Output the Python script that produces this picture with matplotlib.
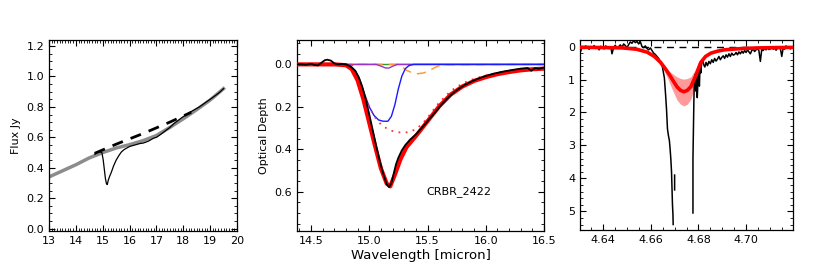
"""Three-panel spectrum figure: continuum fit, 15 micron optical depth, 4.67 micron CO band."""

import matplotlib

matplotlib.use("Agg")
import matplotlib.pyplot as plt
import numpy as np
from matplotlib.ticker import FormatStrFormatter, MultipleLocator

plt.rcParams["font.family"] = ["DejaVu Sans"]
plt.rcParams["font.size"] = 8

# ---- panel 1: flux spectrum with continuum ----
flux_wl = [14.70, 14.80, 14.90, 14.97, 15.02, 15.06, 15.10, 15.14, 15.17, 15.21,
           15.26, 15.32, 15.40, 15.50, 15.60, 15.70, 15.80, 15.90, 16.00, 16.10,
           16.20, 16.30, 16.40, 16.50, 16.60, 16.70, 16.80, 16.90, 17.00, 17.10,
           17.20, 17.35, 17.50, 17.65, 17.80, 17.95, 18.10, 18.25, 18.40, 18.60,
           18.80, 19.00, 19.20, 19.35, 19.50]
flux_jy = [0.490, 0.500, 0.505, 0.500, 0.450, 0.390, 0.330, 0.295, 0.290, 0.320,
           0.345, 0.370, 0.410, 0.450, 0.480, 0.505, 0.520, 0.530, 0.540, 0.545,
           0.550, 0.555, 0.560, 0.562, 0.568, 0.575, 0.585, 0.595, 0.600, 0.612,
           0.625, 0.645, 0.665, 0.690, 0.710, 0.730, 0.748, 0.765, 0.780, 0.800,
           0.825, 0.850, 0.875, 0.895, 0.920]

cont_wl = [13.0, 13.5, 14.0, 14.5, 15.0, 15.5, 16.0, 16.5, 17.0, 17.5, 18.0, 18.5, 19.0, 19.5]
cont_jy = [0.340, 0.380, 0.420, 0.465, 0.500, 0.530, 0.552, 0.578, 0.612, 0.665,
           0.722, 0.782, 0.845, 0.920]

guide_wl = [14.70, 15.50, 16.50, 17.50, 18.30]
guide_jy = [0.495, 0.555, 0.625, 0.700, 0.765]

# ---- panel 2: 15 micron optical depth and fit components ----
tau_wl = [14.38, 14.42, 14.46, 14.50, 14.53, 14.56, 14.59, 14.62, 14.64, 14.67,
          14.70, 14.73, 14.76, 14.80, 14.84, 14.88, 14.91, 14.94, 14.97, 15.00,
          15.03, 15.06, 15.09, 15.12, 15.15, 15.17, 15.19, 15.21, 15.23, 15.25,
          15.28, 15.31, 15.35, 15.40, 15.45, 15.50, 15.56, 15.62, 15.68, 15.75,
          15.82, 15.90, 15.98, 16.06, 16.14, 16.22, 16.30, 16.36, 16.39, 16.42,
          16.46, 16.50]
tau_obs = [0.000, 0.000, 0.002, -0.003, 0.003, 0.005, -0.008, -0.020, -0.022, -0.018,
           -0.005, 0.000, -0.002, 0.000, 0.010, 0.030, 0.060, 0.105, 0.165, 0.235,
           0.310, 0.385, 0.455, 0.515, 0.565, 0.578, 0.560, 0.515, 0.470, 0.440,
           0.405, 0.380, 0.355, 0.330, 0.300, 0.268, 0.230, 0.190, 0.155, 0.122,
           0.097, 0.075, 0.058, 0.045, 0.035, 0.027, 0.020, 0.017, 0.030, 0.018,
           0.020, 0.015]

fit_wl = [14.38, 14.70, 14.80, 14.85, 14.90, 14.95, 15.00, 15.05, 15.10, 15.15,
          15.18, 15.22, 15.27, 15.32, 15.40, 15.50, 15.60, 15.70, 15.80, 15.90,
          16.00, 16.10, 16.20, 16.30, 16.40, 16.50]
fit_tau = [0.000, 0.000, 0.004, 0.022, 0.075, 0.165, 0.275, 0.385, 0.490, 0.562,
           0.575, 0.520, 0.445, 0.390, 0.338, 0.268, 0.198, 0.142, 0.104, 0.078,
           0.060, 0.046, 0.036, 0.028, 0.023, 0.020]

blue_wl = [14.38, 14.80, 14.84, 14.88, 14.92, 14.96, 15.00, 15.04, 15.08, 15.12,
           15.16, 15.19, 15.22, 15.25, 15.28, 15.31, 15.34, 15.38, 16.50]
blue_tau = [0.000, 0.000, 0.008, 0.030, 0.075, 0.140, 0.200, 0.240, 0.262, 0.268,
            0.268, 0.245, 0.190, 0.115, 0.055, 0.020, 0.006, 0.000, 0.000]

dot_wl = [14.85, 14.90, 14.95, 15.00, 15.05, 15.10, 15.15, 15.20, 15.25, 15.30,
          15.35, 15.40, 15.45, 15.50, 15.55, 15.60, 15.70, 15.80, 15.90, 16.00,
          16.10, 16.20, 16.35, 16.50]
dot_tau = [0.000, 0.060, 0.130, 0.200, 0.250, 0.283, 0.302, 0.314, 0.320, 0.322,
           0.318, 0.305, 0.283, 0.252, 0.215, 0.180, 0.125, 0.090, 0.068, 0.052,
           0.040, 0.031, 0.022, 0.016]

purple_wl = [14.38, 15.06, 15.10, 15.14, 15.17, 15.20, 15.24, 16.50]
purple_tau = [0.000, 0.000, 0.008, 0.017, 0.017, 0.009, 0.000, 0.000]

orange_wl = [14.38, 15.24, 15.28, 15.32, 15.37, 15.42, 15.47, 15.52, 15.57, 15.62, 16.50]
orange_tau = [0.000, 0.000, 0.012, 0.028, 0.040, 0.044, 0.040, 0.028, 0.013, 0.002, 0.000]

green_wl = [14.38, 16.50]
green_tau = [0.000, 0.000]

# ---- panel 3: CO band optical depth ----
co_wl = [4.6300, 4.6305, 4.6312, 4.6320, 4.6327, 4.6334, 4.6341, 4.6348, 4.6355, 4.6362,
         4.6369, 4.6376, 4.6383, 4.6390, 4.6397, 4.6404, 4.6411, 4.6418, 4.6425, 4.6432,
         4.6437, 4.6444, 4.6451, 4.6458, 4.6465, 4.6472, 4.6479, 4.6486, 4.6493, 4.6500,
         4.6507, 4.6514, 4.6521, 4.6528, 4.6535, 4.6542, 4.6549, 4.6556, 4.6563, 4.6570,
         4.6577, 4.6584, 4.6591, 4.6598, 4.6605, 4.6612, 4.6619, 4.6626, 4.6633, 4.6640,
         4.6647, 4.6652, 4.6657, 4.6662, 4.6666, 4.6670, 4.6674, 4.6678, 4.6681, 4.6684,
         4.6687, 4.6689, 4.6691, 4.6693, 4.6694,
         np.nan, 4.6700, 4.6700, np.nan,
         4.6777, 4.6777, 4.6778, 4.6779, 4.6781, 4.6783, 4.6786, 4.6789, 4.6792, 4.6795,
         4.6798, 4.6801, 4.6804, 4.6807, 4.6810, 4.6814, 4.6818, 4.6822, 4.6827, 4.6832,
         4.6838, 4.6844, 4.6850, 4.6856, 4.6862, 4.6868, 4.6874, 4.6880, 4.6886, 4.6892,
         4.6898, 4.6904, 4.6910, 4.6916, 4.6922, 4.6928, 4.6934, 4.6940, 4.6946, 4.6952,
         4.6958, 4.6964, 4.6970, 4.6976, 4.6982, 4.6988, 4.6994, 4.7000, 4.7006, 4.7012,
         4.7018, 4.7024, 4.7030, 4.7036, 4.7042, 4.7048, 4.7054, 4.7060, 4.7066, 4.7072,
         4.7078, 4.7084, 4.7090, 4.7096, 4.7102, 4.7108, 4.7114, 4.7120, 4.7126, 4.7132,
         4.7138, 4.7144, 4.7150, 4.7156, 4.7162, 4.7168, 4.7174, 4.7180, 4.7186, 4.7192,
         4.7198]
co_tau = [0.05, 0.15, 0.02, 0.06, -0.02, 0.04, 0.08, 0.00, 0.05, -0.03,
          0.06, 0.02, 0.10, -0.01, 0.04, 0.07, -0.02, 0.03, 0.06, 0.01,
          0.22, 0.03, -0.04, 0.05, 0.00, -0.05, 0.02, -0.08, -0.03, 0.03,
          -0.06, -0.14, -0.10, -0.18, -0.12, -0.16, -0.08, -0.15, 0.00, 0.03,
          -0.02, 0.06, 0.10, 0.04, 0.12, 0.20, 0.24, 0.30, 0.36, 0.45,
          0.55, 0.75, 0.95, 1.45, 1.90, 2.50, 2.70, 2.85, 3.10, 3.40,
          3.80, 4.30, 4.80, 5.10, 5.40,
          np.nan, 3.90, 4.35, np.nan,
          5.05, 3.40, 2.90, 2.30, 1.60, 1.00, 0.85, 1.35, 0.90, 1.55,
          1.05, 0.70, 1.20, 0.55, 0.80, 0.45, 0.38, 0.55, 0.62, 0.48,
          0.58, 0.45, 0.52, 0.40, 0.48, 0.36, 0.44, 0.38, 0.30, 0.40,
          0.33, 0.28, 0.36, 0.25, 0.32, 0.22, 0.30, 0.20, 0.26, 0.24,
          0.18, 0.25, 0.16, 0.22, 0.14, 0.20, 0.12, 0.18, 0.10, 0.16,
          0.22, 0.12, 0.08, 0.15, 0.10, 0.06, 0.13, 0.45, 0.08, 0.12,
          0.05, 0.10, 0.03, 0.09, 0.07, 0.02, 0.08, 0.04, 0.11, 0.05,
          0.01, 0.06, 0.30, 0.03, 0.08, -0.02, 0.05, 0.00, 0.07, 0.04,
          0.03]

model_wl = [4.6300, 4.6400, 4.6480, 4.6540, 4.6585, 4.6615, 4.6641, 4.6662, 4.6683, 4.6700,
            4.6711, 4.6725, 4.6739, 4.6753, 4.6768, 4.6789, 4.6810, 4.6830, 4.6852, 4.6880,
            4.6908, 4.6950, 4.6993, 4.7060, 4.7130, 4.7200]
model_tau = [0.02, 0.03, 0.04, 0.08, 0.17, 0.30, 0.48, 0.68, 0.91, 1.11,
             1.23, 1.33, 1.37, 1.33, 1.22, 0.88, 0.48, 0.30, 0.20, 0.14,
             0.10, 0.075, 0.055, 0.04, 0.03, 0.025]

band_wl = [4.6630, 4.6650, 4.6670, 4.6690, 4.6710, 4.6725, 4.6739, 4.6753, 4.6768, 4.6785, 4.6800, 4.6820]
band_low = [0.45, 0.58, 0.70, 0.82, 0.92, 0.97, 0.99, 0.97, 0.92, 0.72, 0.48, 0.30]
band_high = [0.45, 0.65, 0.95, 1.30, 1.62, 1.75, 1.80, 1.75, 1.60, 1.20, 0.75, 0.32]

zero_wl = [4.6300, 4.7200]
zero_tau = [0.0, 0.0]


def _style(ax, xmaj, xmin, ymaj, ymin):
    ax.xaxis.set_major_locator(MultipleLocator(xmaj))
    ax.xaxis.set_minor_locator(MultipleLocator(xmin))
    ax.yaxis.set_major_locator(MultipleLocator(ymaj))
    ax.yaxis.set_minor_locator(MultipleLocator(ymin))
    ax.tick_params(which="both", direction="in", top=True, right=True, labelsize=8)
    ax.tick_params(which="major", length=4, width=0.8)
    ax.tick_params(which="minor", length=2, width=0.6)
    for sp in ax.spines.values():
        sp.set_linewidth(0.9)


fig = plt.figure(figsize=(8.17, 2.72), dpi=100)
ax1 = fig.add_axes([0.060, 0.151, 0.230, 0.702])
ax2 = fig.add_axes([0.3635, 0.151, 0.3024, 0.702])
ax3 = fig.add_axes([0.710, 0.154, 0.2606, 0.699])

# panel 1
ax1.plot(cont_wl, cont_jy, color="#8c8c8c", lw=2.5, zorder=2)
ax1.plot(flux_wl, flux_jy, color="black", lw=0.9, zorder=3)
ax1.plot(guide_wl, guide_jy, color="black", lw=2.0, ls=(0, (4, 3)), zorder=4)
ax1.set_xlim(13, 20)
ax1.set_ylim(-0.015, 1.24)
ax1.set_ylabel("Flux Jy", fontsize=8)
_style(ax1, 1, 0.1, 0.2, 0.05)

# panel 2
ax2.plot(green_wl, green_tau, color="#2e9a2e", lw=1.0, zorder=2)
ax2.plot(orange_wl, orange_tau, color="#ff9a33", lw=1.1, ls=(0, (6, 4)), zorder=3)
ax2.plot(purple_wl, purple_tau, color="#9933cc", lw=1.0, zorder=3)
ax2.plot(blue_wl, blue_tau, color="#1a1aff", lw=1.0, zorder=3)
ax2.plot(dot_wl, dot_tau, color="#ff3333", lw=1.3, ls=(0, (1, 3)), zorder=3)
ax2.plot(fit_wl, fit_tau, color="#ff0000", lw=3.0, zorder=4)
ax2.plot(tau_wl, tau_obs, color="black", lw=1.3, zorder=5)
ax2.text(15.77, 0.60, "CRBR_2422", fontsize=8, ha="center", va="center")
ax2.set_xlim(14.38, 16.5)
ax2.set_ylim(0.785, -0.115)
ax2.set_ylabel("Optical Depth", fontsize=8)
ax2.set_xlabel("Wavelength [micron]", fontsize=9.5, labelpad=2)
_style(ax2, 0.5, 0.1, 0.2, 0.05)

# panel 3
ax3.plot(zero_wl, zero_tau, color="black", lw=1.0, ls=(0, (5, 4)), zorder=2)
ax3.fill_between(band_wl, band_low, band_high, color="#ff9a9a", lw=0, zorder=3)
ax3.plot(co_wl, co_tau, color="black", lw=1.1, zorder=4)
ax3.plot(model_wl, model_tau, color="#ff0000", lw=2.6, zorder=5)
ax3.set_xlim(4.6303, 4.7197)
ax3.set_ylim(5.57, -0.2)
ax3.xaxis.set_major_formatter(FormatStrFormatter("%.2f"))
_style(ax3, 0.02, 0.005, 1, 0.2)

fig.savefig("out.png", dpi=100)
